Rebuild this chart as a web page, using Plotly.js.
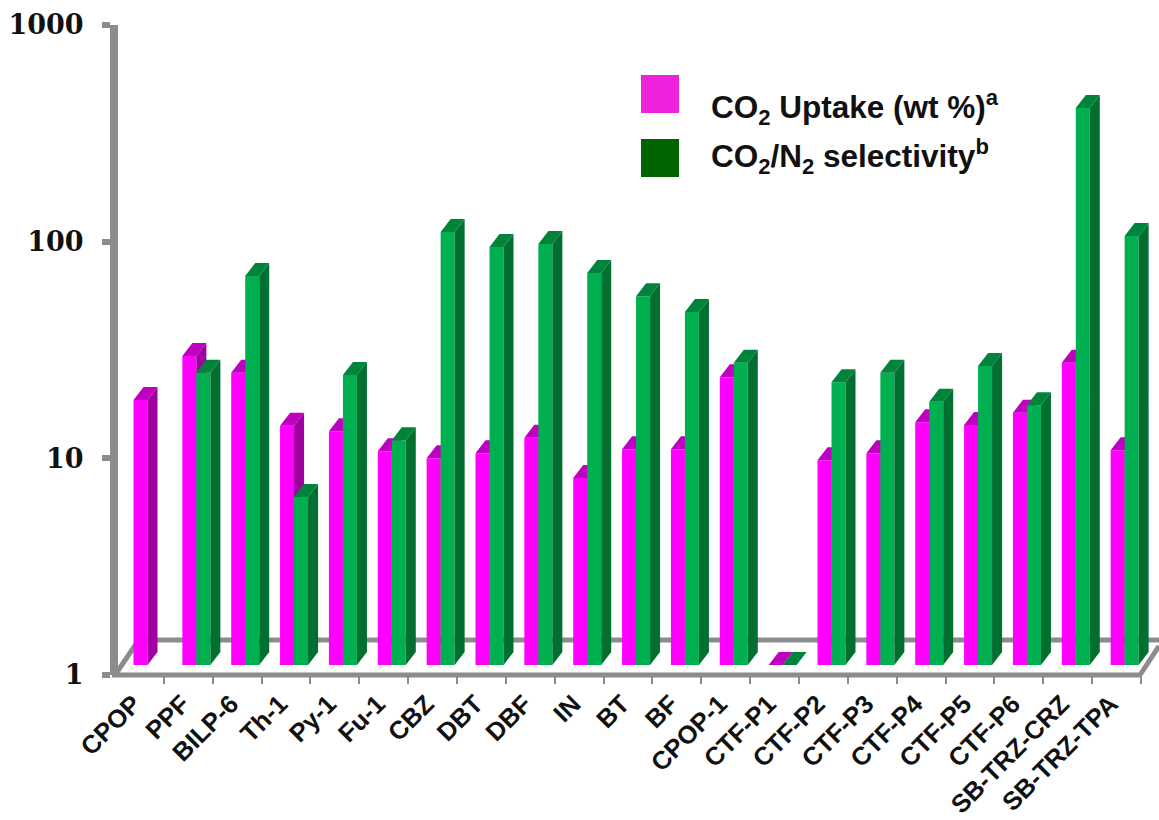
<!DOCTYPE html>
<html>
<head>
<meta charset="utf-8">
<script src="https://cdn.plot.ly/plotly-3.0.1.min.js"></script>
<style>html,body{margin:0;padding:0;background:#fff}</style>
</head>
<body>
<div id="chart" style="width:1159px;height:820px"></div>
<script>
const categories = ["CPOP","PPF","BILP-6","Th-1","Py-1","Fu-1","CBZ","DBT","DBF","IN","BT","BF","CPOP-1","CTF-P1","CTF-P2","CTF-P3","CTF-P4","CTF-P5","CTF-P6","SB-TRZ-CRZ","SB-TRZ-TPA"];
const uptake = [16.7,26.7,22.3,12.7,12.0,9.7,9.0,9.5,11.2,7.3,9.9,9.9,21.3,1.0,8.8,9.5,13.2,12.8,14.6,24.8,9.8];
const selectivity = [null,22.3,62.4,5.96,21.8,10.9,99.6,84.9,87.6,64.4,50.4,42.6,24.8,1.0,20.2,22.3,16.4,24.0,15.8,372,95.5];
const yTicks = [1,10,100,1000];
const uptakeColors = {front:"#ff00ff", side:"#a000a0", top:"#c000c0"};
const selectivityColors = {front:"#00b050", side:"#006f30", top:"#00843c"};

// page-pixel frame
const X0 = 115, R = 1141;                 // x value 0 and right end of the axis
const L = 118, PR = 1159;                 // plot box left and right (room for the last bar's side)
const T = 15, B = 675;                    // plot box top and bottom
const yOne = 675, yThousand = 25;         // visible axis: where 1 and 1000 lie
const barFloor = 665;                     // bars stand 10px above the axis plane
const pxPerCat = (R - X0) / categories.length;
const pxPerDecade = (yOne - yThousand) / 3;
const depthX = 10 / pxPerCat;
const depthY = Math.pow(10, 13 / pxPerDecade);
const barW = 14 / pxPerCat;
const gapL = 18.5 / pxPerCat;
const xMid = categories.map((c, i) => i + 0.5);

function series(values, name, colors, left, yaxis) {
  const sx = [], sy = [], tx = [], ty = [];
  values.forEach((v, i) => {
    if (v === null) return;
    const x0 = i + left, x1 = x0 + barW;
    sx.push(x1, x1 + depthX, x1 + depthX, x1, x1, null);
    sy.push(1, depthY, v * depthY, v, 1, null);
    tx.push(x0, x1, x1 + depthX, x0 + depthX, x0, null);
    ty.push(v, v, v * depthY, v * depthY, v, null);
  });
  const poly = (x, y, color, part) => ({
    type: "scatter", mode: "none", x, y, yaxis, fill: "toself", fillcolor: color,
    hoverinfo: "skip", showlegend: false, name: name + " " + part
  });
  return [
    {type: "bar", name, x: xMid, y: values, yaxis,
     offset: left - 0.5, width: barW, marker: {color: colors.front, line: {width: 0}}, showlegend: false},
    poly(sx, sy, colors.side, "side"),
    poly(tx, ty, colors.top, "top")
  ];
}

const traces = [
  {type: "scatter", mode: "none", x: xMid, y: uptake, xaxis: "x", yaxis: "y", hoverinfo: "skip", showlegend: false},
  ...series(uptake, "CO2 Uptake (wt %)", uptakeColors, gapL, "y2"),
  ...series(selectivity, "CO2/N2 selectivity", selectivityColors, gapL + barW, "y3")
];

const gray = "#8c8c8c";
const W = 1159, H = 820;
const px = v => (v - L) / (PR - L);
const py = v => (B - v) / (B - T);
const wall = (x0, y0, x1, y1) => ({type: "line", xref: "paper", yref: "paper", x0: px(x0), y0: py(y0), x1: px(x1), y1: py(y1), layer: "below", line: {color: gray, width: 5}});
const swatch = (x0, y0, x1, y1, c) => ({type: "rect", xref: "paper", yref: "paper", x0: px(x0), y0: py(y0), x1: px(x1), y1: py(y1), fillcolor: c, line: {width: 0}});
const note = (x, y, text) => ({xref: "paper", yref: "paper", x: px(x), y: py(y), text, showarrow: false, xanchor: "left", yanchor: "middle",
  font: {family: "Liberation Sans", size: 31.5, color: "#111"}});

const layout = {
  width: W, height: H, paper_bgcolor: "#fff", plot_bgcolor: "rgba(0,0,0,0)",
  margin: {l: L, r: W - PR, t: T, b: H - B, pad: 0},
  showlegend: false, barmode: "overlay",
  xaxis: {type: "linear", anchor: "y", range: [(L - X0) / pxPerCat, (PR - X0) / pxPerCat], tickmode: "array", tickvals: xMid, ticktext: categories,
    ticks: "", tickangle: -45, showgrid: false, zeroline: false, showline: false,
    ticklabelshift: -6, ticklabelstandoff: 8,
    tickfont: {family: "Liberation Sans", size: 25.5, color: "#111", weight: "bold"},
    minor: {tick0: 0, dtick: 1, ticks: "outside", ticklen: 8, tickwidth: 2, tickcolor: gray, showgrid: false}},
  yaxis: {type: "log", domain: [0, (B - yThousand) / (B - T)], range: [0, 3], tickmode: "array", tickvals: yTicks, ticktext: yTicks.map(String),
    ticks: "outside", ticklen: 8, tickwidth: 6, tickcolor: gray, showgrid: false, zeroline: false,
    showline: true, linecolor: gray, linewidth: 8, ticklabelstandoff: 13,
    tickfont: {family: "DejaVu Serif", size: 27, color: "#111", weight: "bold"}},
  yaxis2: {type: "log", domain: [(B - barFloor) / (B - T), 1], range: [0, 3], anchor: "x", visible: false},
  yaxis3: {type: "log", range: [0, 3], overlaying: "y2", anchor: "x", visible: false},
  shapes: [
    wall(112, 675, 1141, 675),
    wall(115, 675, 136, 644),
    wall(134, 640, 1159, 640),
    wall(1140, 675, 1159, 646),
    swatch(641, 75, 679, 113, "#ee22dd"),
    swatch(641, 139, 679, 177, "#006400")
  ],
  annotations: [
    note(709, 107, "<b>CO<sub>2</sub> Uptake (wt %)<sup>a</sup></b>"),
    note(709, 156, "<b>CO<sub>2</sub>/N<sub>2</sub> selectivity<sup>b</sup></b>")
  ]
};
Plotly.newPlot("chart", traces, layout, {displayModeBar: false, staticPlot: true});
</script>
</body>
</html>
